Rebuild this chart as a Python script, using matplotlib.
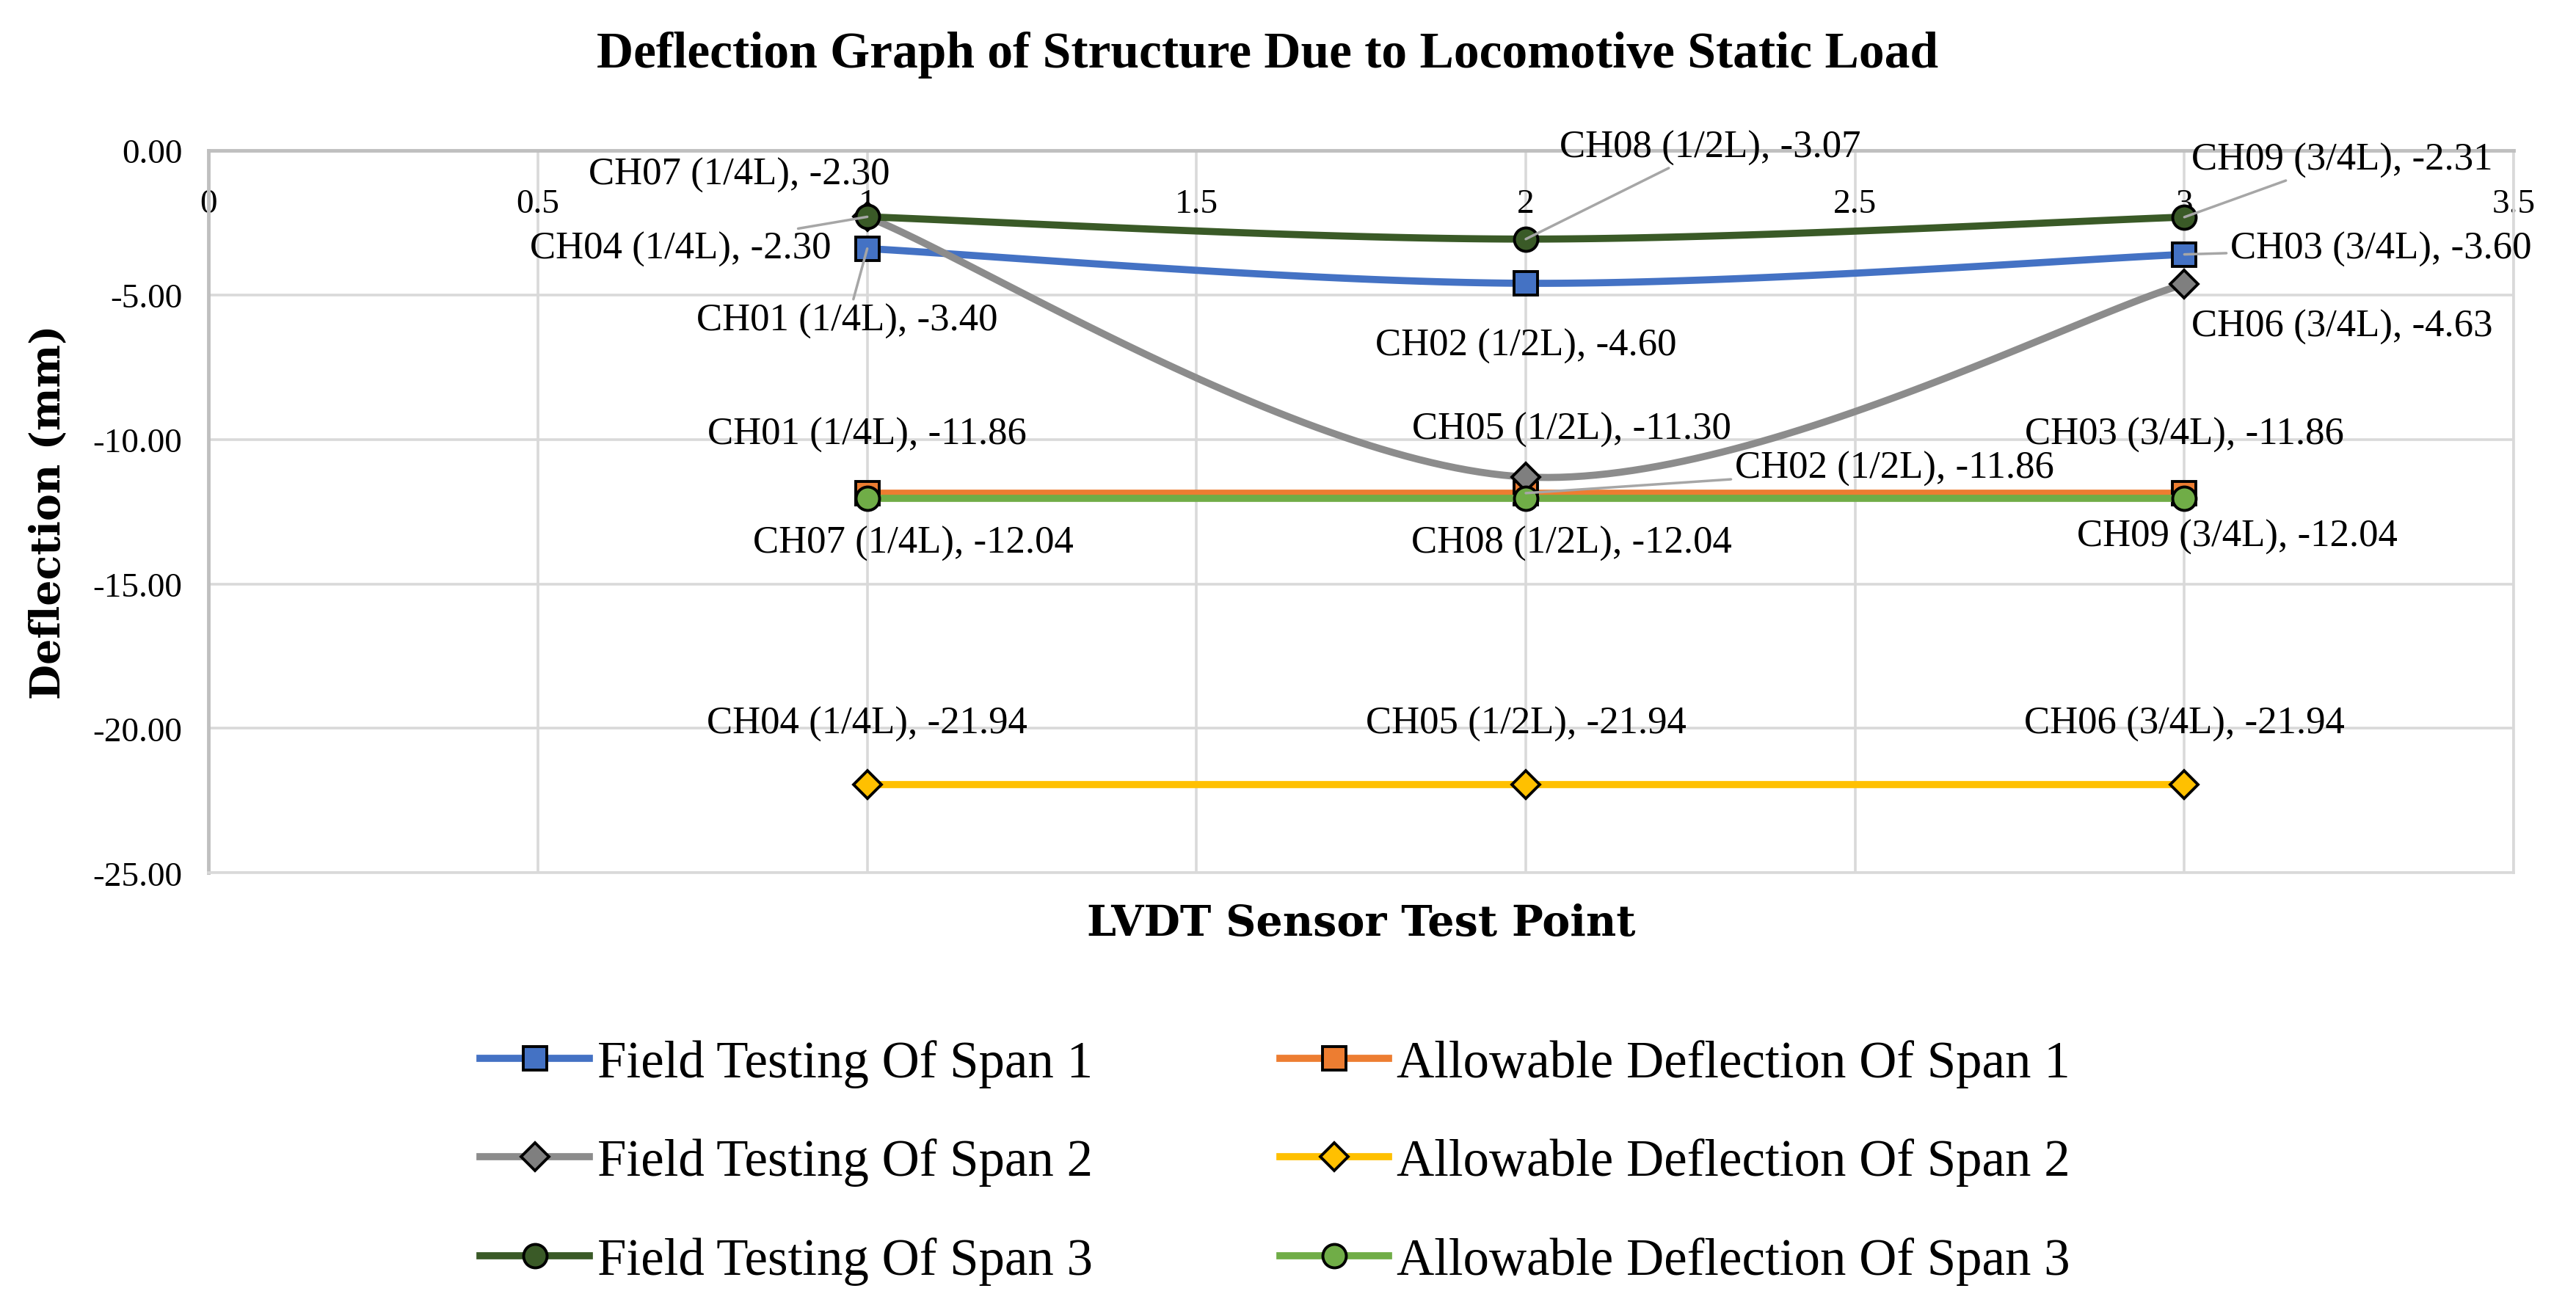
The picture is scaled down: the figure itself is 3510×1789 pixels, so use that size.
import matplotlib
matplotlib.use("Agg")
import matplotlib.pyplot as plt
from matplotlib.lines import Line2D
from matplotlib.ticker import FuncFormatter, MultipleLocator
import numpy as np

test_points = [1, 2, 3]

field_span1 = [-3.40, -4.60, -3.60]
allow_span1 = [-11.86, -11.86, -11.86]
field_span2 = [-2.30, -11.30, -4.63]
allow_span2 = [-21.94, -21.94, -21.94]
field_span3 = [-2.30, -3.07, -2.31]
allow_span3 = [-12.04, -12.04, -12.04]

channels_span1 = ["CH01 (1/4L)", "CH02 (1/2L)", "CH03 (3/4L)"]
channels_span2 = ["CH04 (1/4L)", "CH05 (1/2L)", "CH06 (3/4L)"]
channels_span3 = ["CH07 (1/4L)", "CH08 (1/2L)", "CH09 (3/4L)"]

legend_names = [
    "Field Testing Of Span 1", "Allowable Deflection Of Span 1",
    "Field Testing Of Span 2", "Allowable Deflection Of Span 2",
    "Field Testing Of Span 3", "Allowable Deflection Of Span 3",
]

# label placement: (x, y, ha, leader line?)
label_pos = {
    "f1": [(0.97, -5.9, "center", True), (2.0, -6.75, "center", False), (3.07, -3.4, "left", True)],
    "a1": [(1.0, -9.83, "center", False), (2.56, -11.0, "center", True), (3.0, -9.83, "center", False)],
    "f2": [(0.945, -3.4, "right", True), (2.07, -9.66, "center", False), (3.24, -6.1, "center", False)],
    "a2": [(1.0, -19.83, "center", False), (2.0, -19.83, "center", False), (3.0, -19.83, "center", False)],
    "f3": [(0.806, -0.85, "center", False), (2.28, 0.1, "center", True), (3.24, -0.34, "center", True)],
    "a3": [(1.07, -13.6, "center", False), (2.07, -13.6, "center", False), (3.08, -13.35, "center", False)],
}

SERIF = ["Liberation Serif", "DejaVu Serif"]
plt.rcParams["font.family"] = SERIF


def excel_smooth(xs, ys, n=60):
    pts = np.column_stack([xs, ys]).astype(float)
    out = [pts[0]]
    t = np.linspace(0, 1, n)[1:, None]
    for i in range(len(pts) - 1):
        p0 = pts[i - 1] if i > 0 else pts[i]
        p1, p2 = pts[i], pts[i + 1]
        p3 = pts[i + 2] if i + 2 < len(pts) else pts[i + 1]
        c1 = p1 + (p2 - p0) / 6
        c2 = p2 - (p3 - p1) / 6
        seg = (1 - t) ** 3 * p1 + 3 * (1 - t) ** 2 * t * c1 + 3 * (1 - t) * t ** 2 * c2 + t ** 3 * p2
        out.extend(seg)
    return np.array(out)


series = [
    ("f1", field_span1, channels_span1, "#4472C4", "#4472C4", "s", True),
    ("a1", allow_span1, channels_span1, "#ED7D31", "#ED7D31", "s", False),
    ("f2", field_span2, channels_span2, "#8C8C8C", "#7F7F7F", "D", True),
    ("a2", allow_span2, channels_span2, "#FFC000", "#FFC000", "D", False),
    ("f3", field_span3, channels_span3, "#3A5A27", "#3A5A27", "o", True),
    ("a3", allow_span3, channels_span3, "#70AD47", "#70AD47", "o", False),
]

fig = plt.figure(figsize=(35.1, 17.9), dpi=100)
ax = fig.add_axes([0.081, 0.335, 0.8948, 0.55])

handles = {}
for z, (key, vals, chans, lc, mc, mk, smooth) in enumerate(series):
    if smooth:
        curve = excel_smooth(test_points, vals)
        ax.plot(curve[:, 0], curve[:, 1], color=lc, lw=7, solid_capstyle="round", zorder=3 + z)
    else:
        ax.plot(test_points, vals, color=lc, lw=7, zorder=3 + z)
    ms = 23 if mk != "D" else 19
    ax.plot(test_points, vals, ls="none", marker=mk, ms=ms, mfc=mc, mec="black", mew=2.8, zorder=3 + z)
    handles[key] = Line2D([], [], color=lc, lw=7, marker=mk, ms=ms, mfc=mc, mec="black", mew=2.8)

    for xv, yv, ch, (tx, ty, ha, leader) in zip(test_points, vals, chans, label_pos[key]):
        arrow = dict(arrowstyle="-", color="#A6A6A6", lw=2.5, shrinkA=2, shrinkB=0) if leader else None
        ax.annotate(f"{ch}, {yv:.2f}", xy=(xv, yv), xytext=(tx, ty), textcoords="data",
                    ha=ha, va="center", fontsize=38, color="black", arrowprops=arrow,
                    annotation_clip=False, zorder=20)

ax.set_xlim(0, 3.5)
ax.set_ylim(-25, 0)
ax.xaxis.set_major_locator(MultipleLocator(0.5))
ax.yaxis.set_major_locator(MultipleLocator(5))
ax.xaxis.set_major_formatter(FuncFormatter(lambda v, p: f"{v:g}"))
ax.yaxis.set_major_formatter(FuncFormatter(lambda v, p: f"{v:.2f}"))
ax.set_axisbelow(True)
ax.grid(True, color="#D9D9D9", lw=2.6)

ax.xaxis.set_ticks_position("top")
ax.tick_params(axis="x", length=0, pad=-68, labelsize=34, labeltop=True, labelbottom=False)
ax.tick_params(axis="y", length=0, pad=26, labelsize=34)

for side in ["left", "top"]:
    ax.spines[side].set_color("#BFBFBF")
    ax.spines[side].set_linewidth(3.5)
for side in ["right", "bottom"]:
    ax.spines[side].set_color("#D9D9D9")
    ax.spines[side].set_linewidth(2.6)

ax.xaxis.set_label_position("bottom")
ax.set_xlabel("LVDT Sensor Test Point", fontsize=41, fontweight="bold",
              family=["DejaVu Serif"], labelpad=29)
ax.set_ylabel("Deflection (mm)", fontsize=40, fontweight="bold",
              family=["DejaVu Serif"], labelpad=24)

fig.text(0.492, 0.958, "Deflection Graph of Structure Due to Locomotive Static Load",
         ha="center", va="center", fontsize=50, fontweight="bold")

order = ["f1", "f2", "f3", "a1", "a2", "a3"]
names = {k: n for k, n in zip(["f1", "a1", "f2", "a2", "f3", "a3"], legend_names)}
fig.legend([handles[k] for k in order], [names[k] for k in order],
           loc="center", bbox_to_anchor=(0.495, 0.115), ncol=2, frameon=False,
           fontsize=51, handlelength=2.1, handletextpad=0.15, columnspacing=3.6,
           labelspacing=0.97)

fig.savefig("out.png", dpi=100)
